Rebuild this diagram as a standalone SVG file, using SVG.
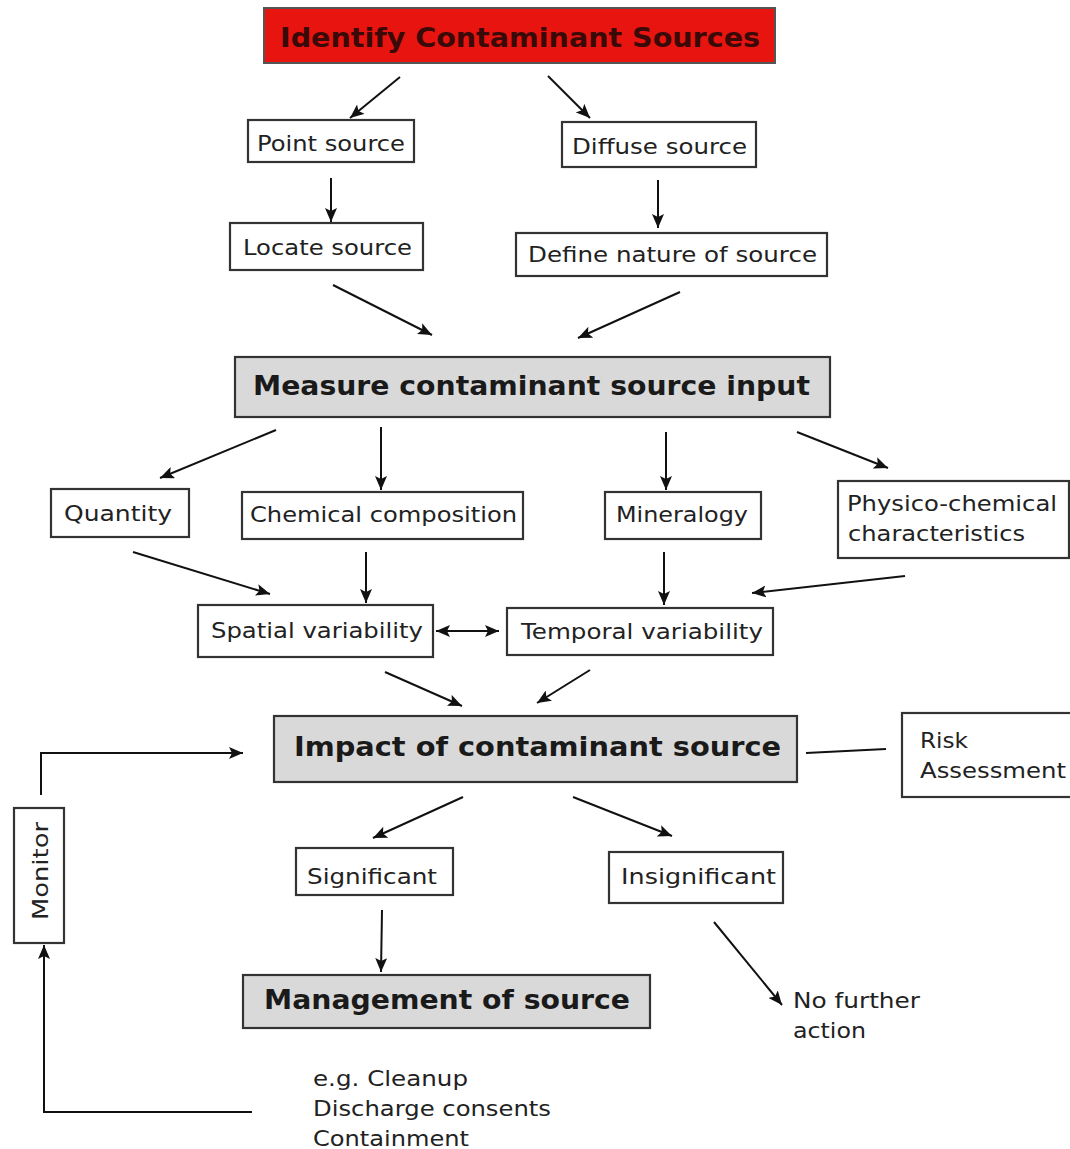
<svg xmlns="http://www.w3.org/2000/svg" width="1070" height="1149" viewBox="0 0 1070 1149">
<style>
.box{fill:#fff;stroke:#333;stroke-width:2.2}
.gray{fill:#d9d9d9;stroke:#333;stroke-width:2.2}
.red{fill:#e8140f;stroke:#555;stroke-width:2}
.t{font-family:"DejaVu Sans","Verdana",sans-serif;font-size:21px;fill:#222}
.b{font-family:"DejaVu Sans","Verdana",sans-serif;font-size:26px;font-weight:bold;fill:#1a1a1a}
.c{fill:none;stroke:#111;stroke-width:2}
</style>
<defs>
<marker id="ah" viewBox="0 0 14 12" refX="14" refY="6" markerWidth="14" markerHeight="12" markerUnits="userSpaceOnUse" orient="auto-start-reverse">
<path d="M0,0 L14,6 L0,12 L3,6 Z" fill="#111"/>
</marker>
</defs>
<rect width="1070" height="1149" fill="#fff"/>

<g id="connectors">
<line class="c" x1="400" y1="77" x2="350" y2="118" marker-end="url(#ah)"/>
<line class="c" x1="548" y1="76" x2="590" y2="118" marker-end="url(#ah)"/>
<line class="c" x1="331" y1="178" x2="331" y2="222" marker-end="url(#ah)"/>
<line class="c" x1="658" y1="180" x2="658" y2="228" marker-end="url(#ah)"/>
<line class="c" x1="333" y1="285" x2="432" y2="335" marker-end="url(#ah)"/>
<line class="c" x1="680" y1="292" x2="578" y2="338" marker-end="url(#ah)"/>
<line class="c" x1="276" y1="430" x2="160" y2="478" marker-end="url(#ah)"/>
<line class="c" x1="381" y1="427" x2="381" y2="490" marker-end="url(#ah)"/>
<line class="c" x1="666" y1="432" x2="666" y2="490" marker-end="url(#ah)"/>
<line class="c" x1="797" y1="432" x2="888" y2="468" marker-end="url(#ah)"/>
<line class="c" x1="133" y1="552" x2="270" y2="594" marker-end="url(#ah)"/>
<line class="c" x1="366" y1="552" x2="366" y2="603" marker-end="url(#ah)"/>
<line class="c" x1="664" y1="552" x2="664" y2="605" marker-end="url(#ah)"/>
<line class="c" x1="905" y1="576" x2="752" y2="593" marker-end="url(#ah)"/>
<line class="c" x1="436" y1="631" x2="499" y2="631" marker-start="url(#ah)" marker-end="url(#ah)"/>
<line class="c" x1="385" y1="672" x2="462" y2="706" marker-end="url(#ah)"/>
<line class="c" x1="590" y1="670" x2="537" y2="703" marker-end="url(#ah)"/>
<line class="c" x1="806" y1="753" x2="886" y2="749"/>
<polyline class="c" points="41,795 41,753 243,753" marker-end="url(#ah)"/>
<polyline class="c" points="252,1112 44,1112 44,945" marker-end="url(#ah)"/>
<line class="c" x1="463" y1="797" x2="373" y2="838" marker-end="url(#ah)"/>
<line class="c" x1="573" y1="797" x2="672" y2="836" marker-end="url(#ah)"/>
<line class="c" x1="382" y1="910" x2="381" y2="972" marker-end="url(#ah)"/>
<line class="c" x1="714" y1="922" x2="782" y2="1005" marker-end="url(#ah)"/>
</g>

<g id="identify">
<rect class="red" x="264" y="8" width="511" height="55"/>
<text class="b" x="280" y="47" textLength="480" lengthAdjust="spacingAndGlyphs" style="fill:#3a0a08">Identify Contaminant Sources</text>
</g>
<g id="point-source">
<rect class="box" x="248" y="120" width="166" height="42"/>
<text class="t" x="257" y="151" textLength="148" lengthAdjust="spacingAndGlyphs">Point source</text>
</g>
<g id="diffuse-source">
<rect class="box" x="562" y="122" width="194" height="45"/>
<text class="t" x="572" y="154" textLength="175" lengthAdjust="spacingAndGlyphs">Diffuse source</text>
</g>
<g id="locate-source">
<rect class="box" x="230" y="223" width="193" height="47"/>
<text class="t" x="243" y="255" textLength="169" lengthAdjust="spacingAndGlyphs">Locate source</text>
</g>
<g id="define-nature">
<rect class="box" x="516" y="233" width="311" height="43"/>
<text class="t" x="528" y="262" textLength="289" lengthAdjust="spacingAndGlyphs">Define nature of source</text>
</g>
<g id="measure">
<rect class="gray" x="235" y="357" width="595" height="60"/>
<text class="b" x="253" y="395" textLength="557" lengthAdjust="spacingAndGlyphs">Measure contaminant source input</text>
</g>
<g id="quantity">
<rect class="box" x="51" y="489" width="138" height="48"/>
<text class="t" x="64" y="521" textLength="108" lengthAdjust="spacingAndGlyphs">Quantity</text>
</g>
<g id="chemical-composition">
<rect class="box" x="242" y="492" width="281" height="47"/>
<text class="t" x="250" y="522" textLength="267" lengthAdjust="spacingAndGlyphs">Chemical composition</text>
</g>
<g id="mineralogy">
<rect class="box" x="605" y="492" width="156" height="47"/>
<text class="t" x="616" y="522" textLength="132" lengthAdjust="spacingAndGlyphs">Mineralogy</text>
</g>
<g id="physico-chemical">
<rect class="box" x="838" y="481" width="231" height="77"/>
<text class="t" x="847" y="511" textLength="210" lengthAdjust="spacingAndGlyphs">Physico-chemical</text>
<text class="t" x="848" y="541" textLength="177" lengthAdjust="spacingAndGlyphs">characteristics</text>
</g>
<g id="spatial-variability">
<rect class="box" x="198" y="605" width="235" height="52"/>
<text class="t" x="211" y="638" textLength="212" lengthAdjust="spacingAndGlyphs">Spatial variability</text>
</g>
<g id="temporal-variability">
<rect class="box" x="507" y="608" width="266" height="47"/>
<text class="t" x="521" y="639" textLength="242" lengthAdjust="spacingAndGlyphs">Temporal variability</text>
</g>
<g id="impact">
<rect class="gray" x="274" y="716" width="523" height="66"/>
<text class="b" x="294" y="756" textLength="487" lengthAdjust="spacingAndGlyphs">Impact of contaminant source</text>
</g>
<g id="risk-assessment">
<rect class="box" x="902" y="713" width="170" height="84"/>
<text class="t" x="920" y="748" textLength="48" lengthAdjust="spacingAndGlyphs">Risk</text>
<text class="t" x="920" y="778" textLength="146" lengthAdjust="spacingAndGlyphs">Assessment</text>
</g>
<g id="monitor">
<rect class="box" x="14" y="808" width="50" height="135"/>
<text class="t" transform="translate(48,920) rotate(-90)" x="0" y="0" textLength="98" lengthAdjust="spacingAndGlyphs">Monitor</text>
</g>
<g id="significant">
<rect class="box" x="296" y="848" width="157" height="47"/>
<text class="t" x="307" y="884" textLength="130" lengthAdjust="spacingAndGlyphs">Significant</text>
</g>
<g id="insignificant">
<rect class="box" x="609" y="852" width="174" height="51"/>
<text class="t" x="621" y="884" textLength="155" lengthAdjust="spacingAndGlyphs">Insignificant</text>
</g>
<g id="management">
<rect class="gray" x="243" y="975" width="407" height="53"/>
<text class="b" x="264" y="1009" textLength="366" lengthAdjust="spacingAndGlyphs">Management of source</text>
</g>
<g id="no-further-action">
<text class="t" x="793" y="1008" textLength="127" lengthAdjust="spacingAndGlyphs">No further</text>
<text class="t" x="793" y="1038" textLength="73" lengthAdjust="spacingAndGlyphs">action</text>
</g>
<g id="examples">
<text class="t" x="313" y="1086" textLength="155" lengthAdjust="spacingAndGlyphs">e.g. Cleanup</text>
<text class="t" x="313" y="1116" textLength="238" lengthAdjust="spacingAndGlyphs">Discharge consents</text>
<text class="t" x="313" y="1146" textLength="156" lengthAdjust="spacingAndGlyphs">Containment</text>
</g>
</svg>
